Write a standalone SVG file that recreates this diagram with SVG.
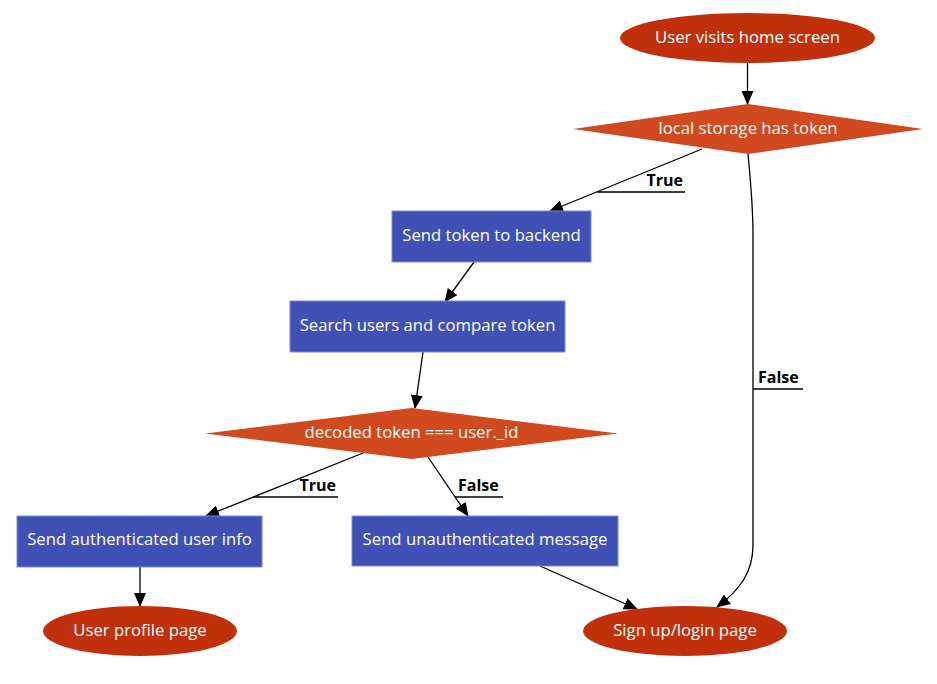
<svg xmlns="http://www.w3.org/2000/svg" width="937" height="684" viewBox="0 0 937 684">
<style>
.term{fill:#c1300a;}
.dec{fill:#d1491e;}
.proc{fill:#3f51b5;stroke:#7c89d2;stroke-width:1;}
.nt{font-family:"Open Sans","Noto Sans",sans-serif;font-size:16.7px;fill:#ffffff;text-anchor:middle;dominant-baseline:central;}
.edge{fill:none;stroke:#000;stroke-width:1.3;}
.ul{fill:none;stroke:#000;stroke-width:1.3;}
.lbl{font-family:"Open Sans","Noto Sans",sans-serif;font-size:16px;font-weight:bold;fill:#000;}
</style>
<defs>
<marker id="ah" markerUnits="userSpaceOnUse" markerWidth="14" markerHeight="12" viewBox="0 0 14 12" refX="13" refY="6" orient="auto">
<path d="M0,0 L14,6 L0,12 Z" fill="#000"/>
</marker>
</defs>
<g id="connectors">
<path class="edge" d="M747.5,63 L747.5,104" marker-end="url(#ah)"/>
<path class="edge" d="M702,149 L550,211" marker-end="url(#ah)"/>
<path class="ul" d="M597,192 L685,192"/>
<text class="lbl" x="683" y="186" text-anchor="end">True</text>
<path class="edge" d="M748,154 C751,185 753,205 753,235 L753,545 C753,572 740,590 717,607" marker-end="url(#ah)"/>
<path class="ul" d="M753,389 L803,389"/>
<text class="lbl" x="758" y="383">False</text>
<path class="edge" d="M474,262 L445,302" marker-end="url(#ah)"/>
<path class="edge" d="M423,352 L415,408" marker-end="url(#ah)"/>
<path class="edge" d="M363,453 L206,516" marker-end="url(#ah)"/>
<path class="ul" d="M253,497 L338,497"/>
<text class="lbl" x="336" y="491" text-anchor="end">True</text>
<path class="edge" d="M428,457 L468,516" marker-end="url(#ah)"/>
<path class="ul" d="M455,497 L503,497"/>
<text class="lbl" x="458" y="491">False</text>
<path class="edge" d="M140,567 L140,606" marker-end="url(#ah)"/>
<path class="edge" d="M540,566 L637,609" marker-end="url(#ah)"/>
</g>
<g id="start">
<ellipse class="term" cx="747.5" cy="38" rx="127.5" ry="25"/>
<text class="nt" x="747.5" y="36">User visits home screen</text>
</g>
<g id="hasToken">
<polygon class="dec" points="573,129 748,104 923,129 748,154"/>
<text class="nt" x="748" y="127">local storage has token</text>
</g>
<g id="sendToken">
<rect class="proc" x="392" y="211" width="199" height="51"/>
<text class="nt" x="491.5" y="234">Send token to backend</text>
</g>
<g id="search">
<rect class="proc" x="290" y="301" width="275" height="51"/>
<text class="nt" x="427.5" y="324">Search users and compare token</text>
</g>
<g id="decoded">
<polygon class="dec" points="205,433.5 411.5,408 618,433.5 411.5,459"/>
<text class="nt" x="411.5" y="431.5">decoded token === user._id</text>
</g>
<g id="authInfo">
<rect class="proc" x="17" y="516" width="245" height="51"/>
<text class="nt" x="139.5" y="538">Send authenticated user info</text>
</g>
<g id="unauthMsg">
<rect class="proc" x="352" y="516" width="266" height="50"/>
<text class="nt" x="485" y="538">Send unauthenticated message</text>
</g>
<g id="profile">
<ellipse class="term" cx="140" cy="631" rx="97" ry="25"/>
<text class="nt" x="140" y="629">User profile page</text>
</g>
<g id="signup">
<ellipse class="term" cx="685" cy="631" rx="102" ry="25"/>
<text class="nt" x="685" y="629">Sign up/login page</text>
</g>
</svg>
